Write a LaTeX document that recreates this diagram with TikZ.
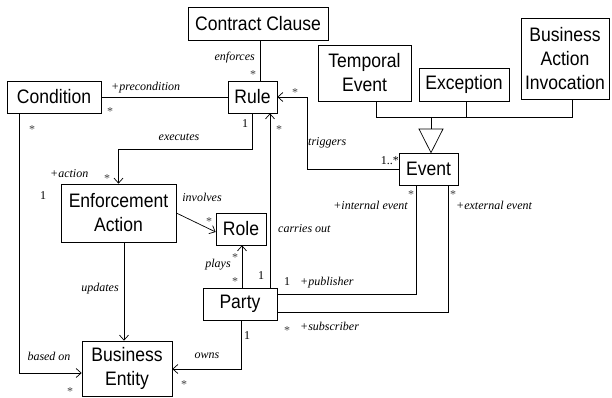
\documentclass[tikz,border=0pt]{standalone}
\usepackage{fontspec}
\setmainfont{Liberation Serif}
\newfontfamily\boxfont[FakeStretch=0.9]{Liberation Sans}
\usetikzlibrary{arrows.meta}
\begin{document}
\begin{tikzpicture}[x=1pt,y=-1pt,
  cls/.style={draw, line width=0.7pt, inner sep=0pt, align=center,
    font=\boxfont\fontsize{19.5}{24}\selectfont},
  ln/.style={line width=0.7pt},
  arr/.style={ln, -{Straight Barb[length=5pt,width=9pt,line width=0.7pt]}},
  lab/.style={inner sep=0pt, font=\itshape\fontsize{12}{14}\selectfont},
  mult/.style={inner sep=0pt, font=\fontsize{12}{14}\selectfont},
  star/.style={inner sep=0pt, yshift=-2pt, text=black!75, font=\fontsize{12}{14}\selectfont}]
\useasboundingbox (0,0) rectangle (612,398);

% classes
\node[cls, minimum width=140, minimum height=33] (cc) at (258,23.5) {Contract Clause};
\node[cls, minimum width=49, minimum height=32] (rule) at (252.5,97) {Rule};
\node[cls, minimum width=94, minimum height=32] (cond) at (54,97) {Condition};
\node[cls, minimum width=93, minimum height=56] (temp) at (364.5,73) {Temporal\\Event};
\node[cls, minimum width=90, minimum height=33] (exc) at (464,84.5) {Exception};
\node[cls, minimum width=88, minimum height=81] (bai) at (565,58.5) {Business\\Action\\Invocation};
\node[cls, minimum width=59, minimum height=32] (event) at (428.5,169) {Event};
\node[cls, minimum width=115, minimum height=58] (ea) at (118.5,213) {Enforcement\\Action};
\node[cls, minimum width=50, minimum height=32] (role) at (241,229) {Role};
\node[cls, minimum width=74, minimum height=32] (party) at (240,304) {Party};
\node[cls, minimum width=90, minimum height=55] (be) at (127,368.5) {Business\\Entity};

% helper coordinates
\coordinate (ccx) at (260,0);
\coordinate (tx) at (307,0);
\coordinate (px) at (242,0);
\coordinate (cx) at (270,0);
\coordinate (ux) at (124,0);
\coordinate (bx) at (19,373);
\coordinate (ox) at (241,369);
\coordinate (pb) at (416,294);
\coordinate (sb) at (448,312);
\coordinate (gl) at (376,117);
\coordinate (gm) at (466,117);
\coordinate (gr) at (572,117);
\coordinate (gc) at (431,117);
\coordinate (tl) at (419,129);
\coordinate (tr) at (443,129);

% generalization
\draw[ln] (temp.south -| gl) -- (gl) -- (gr) -- (bai.south -| gr);
\draw[ln] (exc.south -| gm) -- (gm);
\draw[ln] (gc) -- (gc |- tl);
\draw[ln, line join=miter] (tl) -- (tr) -- (event.north -| gc) -- cycle;

% associations
\draw[ln] (cc.south -| ccx) -- (rule.north -| ccx);
\draw[ln] (cond.east) -- (rule.west);
\draw[arr] (event.west) -- (event.west -| tx) -- (rule.east -| tx) -- (rule.east);
\draw[arr] (rule.south) -- ++(0,36) -| (ea.north);
\draw[arr] (ea.east) -- ([yshift=-3pt]role.west);
\draw[arr] (party.north -| px) -- (role.south -| px);
\draw[arr] (party.north -| cx) -- (rule.south -| cx);
\draw[arr] (ea.south -| ux) -- (be.north -| ux);
\draw[arr] (cond.south -| bx) -- (bx) -- (be.west |- bx);
\draw[arr] (party.south -| ox) -- (ox) -- (be.east |- ox);
\draw[ln] (party.east |- pb) -- (pb) -- (event.south -| pb);
\draw[ln] (party.east |- sb) -- (sb) -- (event.south -| sb);

% labels
\node[lab, anchor=east] (l1) at (255,58) {enforces};
\node[star] (s1) at (253,73) {*};
\node[lab, anchor=west] (l2) at (111,88) {+precondition};
\node[star] (s2) at (110,110) {*};
\node[star] (s3) at (295,91) {*};
\node[lab, anchor=west] (l3) at (308,143) {triggers};
\node[mult, anchor=east] (m1) at (399,161) {1..*};
\node[mult] (m2) at (245,124) {1};
\node[lab] (l4) at (179,137) {executes};
\node[lab, anchor=west] (l5) at (50,174) {+action};
\node[star] (s4) at (107,177) {*};
\node[mult] (m3) at (43,196) {1};
\node[star] (s5) at (32,128) {*};
\node[lab] (l6) at (202,197) {involves};
\node[star] (s6) at (209,220) {*};
\node[star] (s7) at (279,128) {*};
\node[lab, anchor=west] (l7) at (278,229) {carries out};
\node[lab] (l8) at (218,265) {plays};
\node[star] (s8) at (235,256) {*};
\node[star] (s9) at (235,280) {*};
\node[mult] (m4) at (261,276) {1};
\node[mult] (m5) at (287,282) {1};
\node[lab, anchor=west] (l9) at (300,283) {+publisher};
\node[lab, anchor=east] (l10) at (408,205) {+internal event};
\node[star] (s10) at (411,193) {*};
\node[star] (s11) at (453,193) {*};
\node[lab, anchor=west] (l11) at (456,205) {+external event};
\node[star] (s12) at (287,329) {*};
\node[lab, anchor=west] (l12) at (300,326) {+subscriber};
\node[lab] (l13) at (100,289) {updates};
\node[lab] (l14) at (49,356) {based on};
\node[star] (s13) at (70,390) {*};
\node[lab] (l15) at (207,356) {owns};
\node[mult] (m6) at (247,336) {1};
\node[star] (s14) at (184,383) {*};
\end{tikzpicture}
\end{document}
